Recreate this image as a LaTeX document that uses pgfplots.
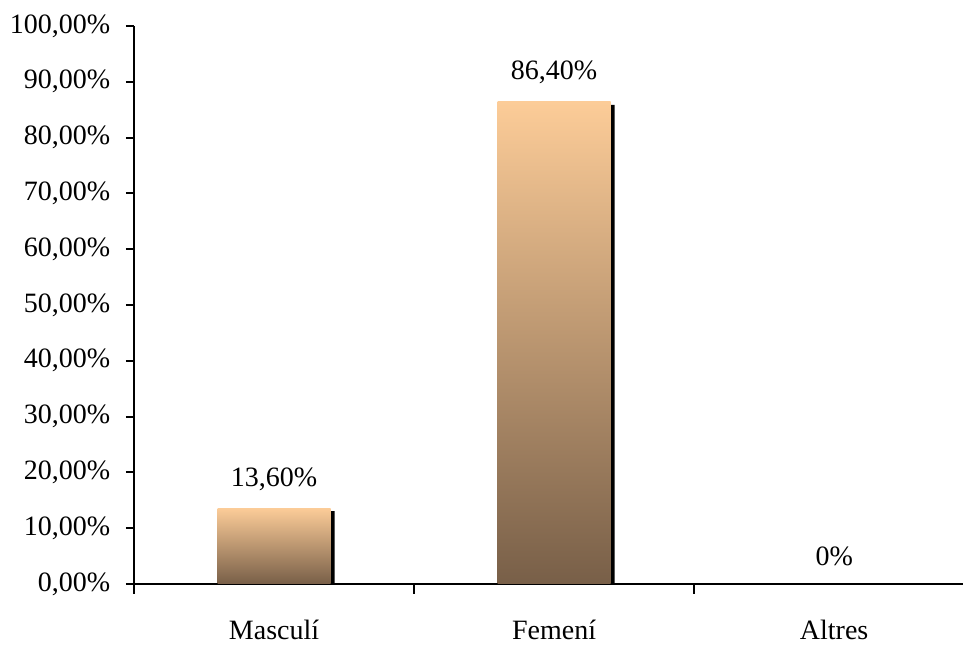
\documentclass[border=0pt]{standalone}
\usepackage{pgfplots}
\pgfplotsset{compat=1.18}
\usepackage{fontspec}
\setmainfont{Liberation Serif}
\definecolor{peach}{RGB}{252,204,152}
\definecolor{brownb}{RGB}{120,95,72}
\begin{document}
\fontsize{14}{16}\selectfont
\begin{tikzpicture}
\begin{axis}[
  scale only axis, width=414.5pt, height=279pt,
  xmin=-0.5, xmax=2.46, ymin=0, ymax=100,
  axis x line=bottom, axis y line=left,
  axis line style={-, line width=1pt, black},
  ytick={0,10,...,100},
  yticklabels={{0,00\%},{10,00\%},{20,00\%},{30,00\%},{40,00\%},{50,00\%},{60,00\%},{70,00\%},{80,00\%},{90,00\%},{100,00\%}},
  xtick={0,1,2},
  xticklabels={Masculí,Femení,Altres},
  minor xtick={-0.5,0.5,1.5,2.5},
  major x tick style={draw=none},
  tick align=outside,
  major tick length=4pt, minor tick length=5pt,
  tick style={line width=1pt, black},
  tick label style={font=\fontsize{14}{16}\selectfont},
  xticklabel style={yshift=-9pt},
  yticklabel style={xshift=-3pt},
  bar width=56.5pt,
  nodes near coords style={font=\fontsize{14}{16}\selectfont, anchor=south, yshift=4pt, text=black},
]
\coordinate (o) at (rel axis cs:0,0);
\addplot[ybar, fill=black, draw=none, xshift=2pt, yshift=-1.5pt] coordinates {(0,13.6) (1,86.4)};
\addplot[ybar, draw=none, top color=peach, bottom color=brownb,
  nodes near coords, point meta=explicit symbolic]
  coordinates {(0,13.6) [13,60\%]};
\addplot[ybar, draw=none, top color=peach, bottom color=brownb,
  nodes near coords, point meta=explicit symbolic]
  coordinates {(1,86.4) [86,40\%]};
\addplot[only marks, mark=none, nodes near coords, point meta=explicit symbolic]
  coordinates {(2,0) [0\%]};
\end{axis}
\pgfresetboundingbox
\path[use as bounding box] ([shift={(-67pt,-32pt)}]o) rectangle ([shift={(415.5pt,292pt)}]o);
\end{tikzpicture}
\end{document}
